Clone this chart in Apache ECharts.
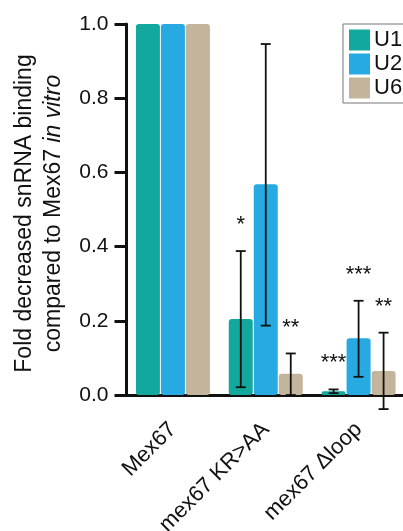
<!DOCTYPE html>
<html>
<head>
<meta charset="utf-8">
<script src="https://cdn.jsdelivr.net/npm/echarts@6/dist/echarts.min.js"></script>
<style>html,body{margin:0;padding:0;background:#fff;}#c{width:403px;height:531px;}</style>
</head>
<body>
<div id="c"></div>
<script>
var categories = ['Mex67', 'mex67 KR>AA', 'mex67 \u0394loop'];
var seriesNames = ['U1', 'U2', 'U6'];
var u1 = [1.0, 0.205, 0.010];
var u2 = [1.0, 0.568, 0.153];
var u6 = [1.0, 0.057, 0.065];
var u1Low = [1.0, 0.021, 0.005];
var u1High = [1.0, 0.388, 0.015];
var u2Low = [1.0, 0.187, 0.049];
var u2High = [1.0, 0.946, 0.254];
var u6Low = [1.0, 0.000, -0.038];
var u6High = [1.0, 0.112, 0.168];
var u1Sig = ['', '*', '***'];
var u2Sig = ['', '', '***'];
var u6Sig = ['', '**', '**'];
var yTicks = [0, 0.2, 0.4, 0.6, 0.8, 1.0];

var colors = ['#13A89E', '#27AAE1', '#C3B59B'];
var FONT = 'Liberation Sans, Arial, sans-serif';
var BAR_W = 24, BAR_GAP = 1;

var values = [u1, u2, u6];
var lows = [u1Low, u2Low, u6Low];
var highs = [u1High, u2High, u6High];
var sigs = [u1Sig, u2Sig, u6Sig];

var series = [];
for (var k = 0; k < 3; k++) {
  series.push({
    name: seriesNames[k], type: 'bar', data: values[k],
    barWidth: BAR_W, barGap: (BAR_GAP / BAR_W * 100) + '%',
    itemStyle: { color: colors[k], borderRadius: 3 },
    z: 2
  });
}
for (var k = 0; k < 3; k++) {
  (function (k) {
    var data = [];
    for (var i = 0; i < categories.length; i++) {
      if (lows[k][i] === highs[k][i] && sigs[k][i] === '') continue;
      data.push([i, lows[k][i], highs[k][i], sigs[k][i]]);
    }
    series.push({
      name: 'err' + seriesNames[k], type: 'custom', z: 5, clip: false,
      data: data,
      encode: { x: 0, y: [1, 2] },
      renderItem: function (params, api) {
        var i = api.value(0);
        var off = (k - 1) * (BAR_W + BAR_GAP);
        var pLow = api.coord([i, api.value(1)]);
        var pHigh = api.coord([i, api.value(2)]);
        var x = pLow[0] + off;
        var cap = 5;
        var st = { stroke: '#111', lineWidth: 1.8 };
        var children = [];
        if (api.value(1) !== api.value(2)) {
          children.push({ type: 'line', shape: { x1: x, y1: pLow[1], x2: x, y2: pHigh[1] }, style: st });
          children.push({ type: 'line', shape: { x1: x - cap, y1: pHigh[1], x2: x + cap, y2: pHigh[1] }, style: st });
          children.push({ type: 'line', shape: { x1: x - cap, y1: pLow[1], x2: x + cap, y2: pLow[1] }, style: st });
        }
        var s = data[params.dataIndex][3];
        if (s) {
          children.push({ type: 'text', x: x, y: pHigh[1] - 15,
            style: { text: s, font: '22px ' + FONT, fill: '#111', align: 'center', verticalAlign: 'bottom' } });
        }
        return { type: 'group', children: children };
      }
    });
  })(k);
}

var chart = echarts.init(document.getElementById('c'), null, { renderer: 'canvas' });
chart.setOption({
  animation: false,
  backgroundColor: '#fff',
  color: colors,
  textStyle: { fontFamily: FONT },
  grid: { left: 126.5, right: -2, top: 24, bottom: 136, containLabel: false, outerBoundsMode: 'none' },
  legend: {
    data: seriesNames, orient: 'vertical', left: 343, top: 24,
    icon: 'rect', itemWidth: 21, itemHeight: 21, itemGap: 2,
    padding: [5, 40, 4, 6], borderColor: '#777', borderWidth: 1, backgroundColor: '#fff',
    textStyle: { fontSize: 22, color: '#111', fontFamily: FONT, padding: [0, 0, 0, -1] }
  },
  xAxis: {
    type: 'category', data: categories,
    axisLine: { lineStyle: { color: '#111', width: 3 } },
    axisTick: { alignWithLabel: true, length: 15, lineStyle: { color: '#111', width: 3 } },
    axisLabel: { rotate: 45, margin: 31, fontSize: 22, color: '#111', fontFamily: FONT, interval: 0 }
  },
  yAxis: {
    type: 'value', min: 0, max: 1, interval: 0.2,
    axisLine: { show: true, lineStyle: { color: '#111', width: 3 } },
    axisTick: { show: true, length: 12, lineStyle: { color: '#111', width: 3 } },
    splitLine: { show: false },
    axisLabel: { margin: 18, fontSize: 21, color: '#111', fontFamily: FONT,
      formatter: function (v) { return v.toFixed(1); } },
    name: '{a|Fold decreased snRNA binding}\n{a|compared to Mex67 }{i|in vitro}',
    nameLocation: 'middle', nameRotate: 90, nameGap: 52,
    nameTextStyle: {
      lineHeight: 29,
      padding: [0, 8, 0, 0],
      rich: {
        a: { fontSize: 23, color: '#111', fontFamily: FONT, lineHeight: 29 },
        i: { fontSize: 23, color: '#111', fontFamily: FONT, fontStyle: 'italic', lineHeight: 29 }
      }
    }
  },
  series: series
});
</script>
</body>
</html>
